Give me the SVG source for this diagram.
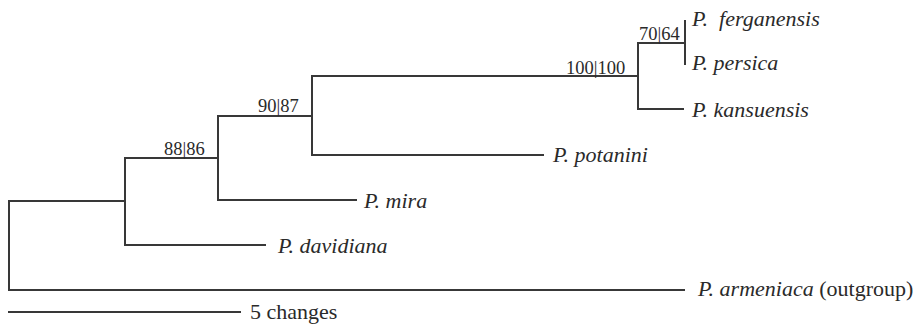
<svg xmlns="http://www.w3.org/2000/svg" width="915" height="325" viewBox="0 0 915 325">
  <style>
    .br { fill: none; stroke: #383838; stroke-width: 2; stroke-linecap: square; }
    text { font-family: 'Liberation Serif', 'Times New Roman', serif; fill: #2a2a2a; }
    .taxon { font-size: 22px; font-style: italic; }
    .plain { font-style: normal; }
    .sup { font-size: 18.5px; }
    .scale { font-size: 22px; }
  </style>
  <rect width="915" height="325" fill="#ffffff"/>

  <!-- branches (rectangular cladogram) -->
  <g id="connectors">
    <!-- root -->
    <path class="br" d="M125,201 H9 V290 H684"/>
    <!-- node A: davidiana + rest -->
    <path class="br" d="M218,158 H125 V245 H265"/>
    <!-- node B: mira + rest -->
    <path class="br" d="M312,116 H218 V200 H356"/>
    <!-- node C: potanini + peach clade -->
    <path class="br" d="M638,76 H312 V155 H543"/>
    <!-- node D: kansuensis + (ferganensis, persica) -->
    <path class="br" d="M685,43 H638 V109 H683"/>
    <!-- node E: ferganensis / persica -->
    <path class="br" d="M685,21 V64"/>
  </g>

  <!-- support values (bootstrap | jackknife) -->
  <g id="support">
    <text class="sup" x="639" y="40">70|64</text>
    <text class="sup" x="566" y="74">100|100</text>
    <text class="sup" x="258" y="112">90|87</text>
    <text class="sup" x="164" y="155">88|86</text>
  </g>

  <!-- terminal taxa -->
  <g id="ferganensis"><text class="taxon" x="692" y="26" xml:space="preserve">P.  ferganensis</text></g>
  <g id="persica"><text class="taxon" x="692" y="70">P. persica</text></g>
  <g id="kansuensis"><text class="taxon" x="692" y="117">P. kansuensis</text></g>
  <g id="potanini"><text class="taxon" x="553" y="162">P. potanini</text></g>
  <g id="mira"><text class="taxon" x="364" y="208">P. mira</text></g>
  <g id="davidiana"><text class="taxon" x="278" y="253">P. davidiana</text></g>
  <g id="armeniaca"><text class="taxon" x="698" y="296">P. armeniaca <tspan class="plain">(outgroup)</tspan></text></g>

  <!-- scale bar -->
  <g id="scalebar">
    <path class="br" d="M9,312 H240"/>
    <text class="scale" x="250" y="319">5 changes</text>
  </g>
</svg>
